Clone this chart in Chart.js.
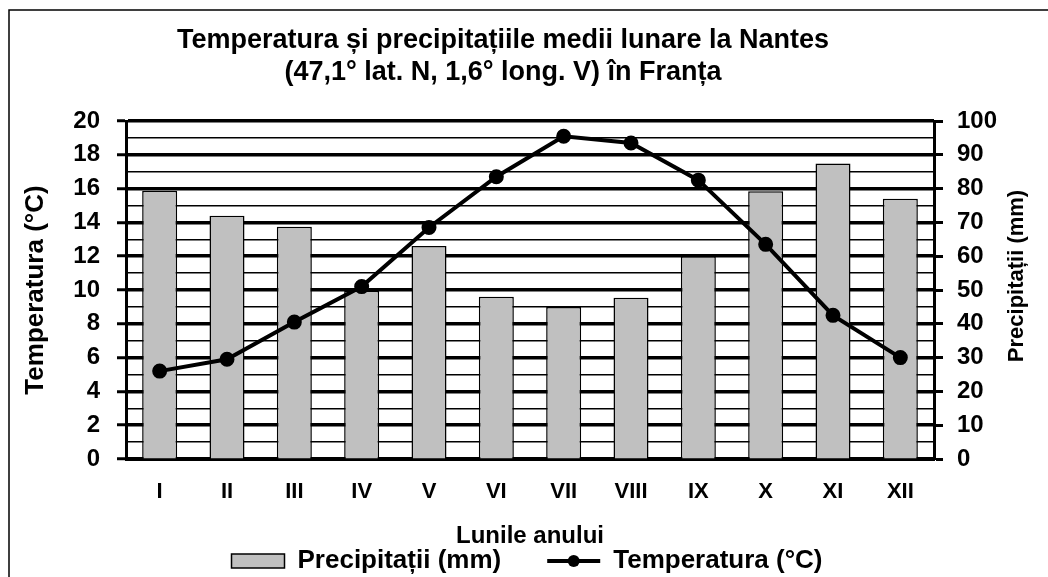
<!DOCTYPE html>
<html>
<head>
<meta charset="utf-8">
<script src="https://cdn.jsdelivr.net/npm/chart.js@4.4.0/dist/chart.umd.min.js"></script>
<style>
  html, body { margin: 0; padding: 0; background: #fff; overflow: hidden; }
  canvas { display: block; }
</style>
</head>
<body>
<canvas id="climaChart" width="1048" height="584"></canvas>
<script>
const months = ["I", "II", "III", "IV", "V", "VI", "VII", "VIII", "IX", "X", "XI", "XII"];
const precipitatii = [79.4, 72, 68.7, 49.8, 63, 48, 45, 47.7, 60, 79.2, 87.4, 77];
const temperatura = [5.2, 5.9, 8.1, 10.2, 13.7, 16.7, 19.1, 18.7, 16.5, 12.7, 8.5, 6.0];
const titleLines = ["Temperatura și precipitațiile medii lunare la Nantes", "(47,1° lat. N, 1,6° long. V) în Franța"];

Chart.defaults.font.family = "'Liberation Sans', Arial, sans-serif";
Chart.defaults.color = "#000";

// frame, title, right axis title, legend line marker
const decor = {
  id: "decor",
  afterDraw(chart) {
    const ctx = chart.ctx;
    ctx.save();
    ctx.strokeStyle = "#000";
    ctx.lineWidth = 1.5;
    ctx.beginPath();
    ctx.moveTo(9, 700);
    ctx.lineTo(9, 10);
    ctx.lineTo(1100, 10);
    ctx.stroke();

    ctx.fillStyle = "#000";
    ctx.font = "bold 27px 'Liberation Sans', Arial, sans-serif";
    ctx.textAlign = "center";
    ctx.textBaseline = "middle";
    ctx.fillText(titleLines[0], 503, 41);
    ctx.fillText(titleLines[1], 503, 73);

    ctx.save();
    ctx.translate(1017, 276);
    ctx.rotate(-Math.PI / 2);
    ctx.font = "bold 22px 'Liberation Sans', Arial, sans-serif";
    ctx.fillText("Precipitații (mm)", 0, 0);
    ctx.restore();

    const hb = chart.legend.legendHitBoxes[1];
    if (hb) {
      const cy = hb.top + hb.height / 2;
      const bw = chart.legend.options.labels.boxWidth;
      ctx.lineWidth = 4;
      ctx.beginPath();
      ctx.moveTo(hb.left, cy);
      ctx.lineTo(hb.left + bw, cy);
      ctx.stroke();
      ctx.beginPath();
      ctx.arc(hb.left + bw / 2, cy, 6, 0, Math.PI * 2);
      ctx.fill();
    }
    ctx.restore();
  }
};

const isMajor = (c) => c.tick && Math.round(c.tick.value) % 2 === 0;

new Chart(document.getElementById("climaChart"), {
  type: "bar",
  data: {
    labels: months,
    datasets: [
      {
        type: "bar",
        label: "Precipitații (mm)",
        data: precipitatii,
        yAxisID: "y1",
        backgroundColor: "#c0c0c0",
        borderColor: "#000",
        borderWidth: 1.5,
        barPercentage: 0.52,
        categoryPercentage: 1,
        order: 2
      },
      {
        type: "line",
        label: "Temperatura (°C)",
        data: temperatura,
        yAxisID: "y",
        borderColor: "#000",
        backgroundColor: "#000",
        borderWidth: 4,
        pointRadius: 5.5,
        pointBackgroundColor: "#000",
        pointBorderColor: "#000",
        tension: 0,
        order: 1
      }
    ]
  },
  options: {
    responsive: false,
    animation: false,
    layout: { padding: { top: 121, left: 16, right: 10, bottom: 0 } },
    plugins: {
      tooltip: { enabled: false },
      title: { display: false },
      legend: {
        position: "bottom",
        labels: {
          boxWidth: 53,
          boxHeight: 14,
          padding: 46,
          font: { size: 26, weight: "bold" },
          color: "#000",
          sort: (a, b) => a.datasetIndex - b.datasetIndex,
          generateLabels(chart) {
            const items = Chart.defaults.plugins.legend.labels.generateLabels(chart);
            items.forEach((it) => {
              if (it.datasetIndex === 1) {
                it.fillStyle = "rgba(0,0,0,0)";
                it.strokeStyle = "rgba(0,0,0,0)";
                it.lineWidth = 0;
              } else {
                it.lineWidth = 1.5;
              }
            });
            return items;
          }
        }
      }
    },
    scales: {
      x: {
        grid: { display: false, drawTicks: false },
        border: { display: true, color: "#000", width: 3 },
        ticks: { font: { size: 22, weight: "bold" }, color: "#000", padding: 20, maxRotation: 0 },
        title: {
          display: true,
          text: "Lunile anului",
          font: { size: 24, weight: "bold" },
          color: "#000",
          padding: { top: -3.8, bottom: -48.4 }
        }
      },
      y: {
        position: "left",
        min: 0,
        max: 20,
        ticks: {
          stepSize: 1,
          autoSkip: false,
          padding: 17,
          font: { size: 24, weight: "bold" },
          color: "#000",
          callback: (v) => (v % 2 === 0 ? v : "")
        },
        grid: {
          color: "#000",
          lineWidth: (c) => (isMajor(c) ? 3.5 : 1.5),
          tickLength: 9,
          tickWidth: 3,
          tickColor: (c) => (isMajor(c) ? "#000" : "rgba(0,0,0,0)")
        },
        border: { color: "#000", width: 3 },
        title: {
          display: true,
          text: "Temperatura (°C)",
          font: { size: 26, weight: "bold" },
          color: "#000",
          padding: { top: 4, bottom: 4 }
        },
        afterFit: (s) => { s.width = 110; }
      },
      y1: {
        position: "right",
        min: 0,
        max: 100,
        ticks: {
          stepSize: 10,
          autoSkip: false,
          padding: 14,
          font: { size: 24, weight: "bold" },
          color: "#000"
        },
        grid: {
          drawOnChartArea: false,
          color: "#000",
          tickLength: 9,
          tickWidth: 3,
          tickColor: "#000"
        },
        border: { color: "#000", width: 3 },
        afterFit: (s) => { s.width = 104; }
      }
    }
  },
  plugins: [decor]
});
</script>
</body>
</html>
